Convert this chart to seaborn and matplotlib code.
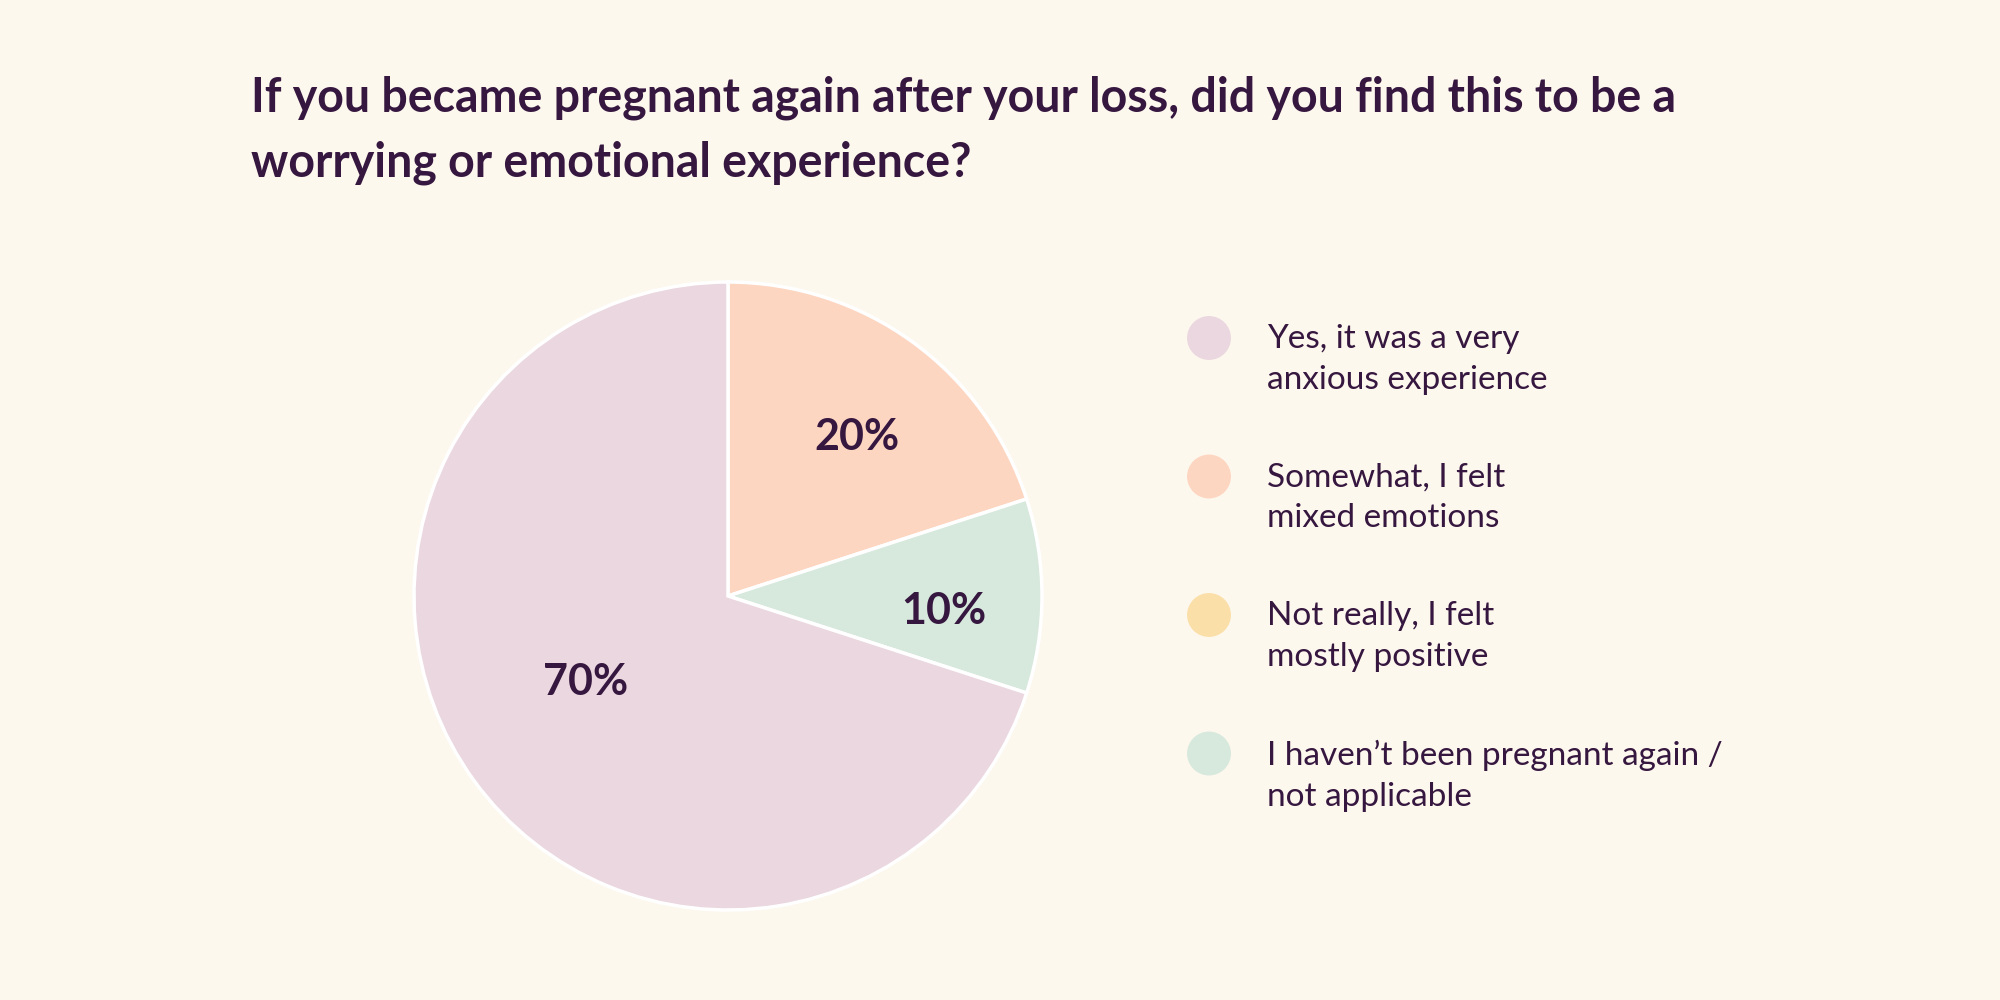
import numpy as np
import pandas as pd
import matplotlib
matplotlib.use("Agg")
import matplotlib.pyplot as plt
import seaborn as sns

# Survey data
categories = [
    "Yes, it was a very\nanxious experience",
    "Somewhat, I felt\nmixed emotions",
    "Not really, I felt\nmostly positive",
    "I haven\u2019t been pregnant again /\nnot applicable",
]
shares = [70, 20, 0, 10]
colors = ["#EBD7DF", "#FDD6C1", "#FADFA9", "#D7E8DD"]
title = ("If you became pregnant again after your loss, did you find this to be a\n"
         "worrying or emotional experience?")

bg = "#FDF8EE"
ink = "#36173F"

sns.set_theme(style="white", rc={"figure.facecolor": bg, "axes.facecolor": bg})
plt.rcParams["font.family"] = ["Lato", "DejaVu Sans"]

df = pd.DataFrame({"category": categories, "share": shares, "color": colors})

fig = plt.figure(figsize=(20, 10), dpi=100)

# Title
fig.text(0.1255, 0.924, title, ha="left", va="top", fontsize=33.5, fontweight="bold",
         color=ink, linespacing=1.55)

# Pie (clockwise from top: Somewhat, Not really, Haven't, Yes)
order = [1, 2, 3, 0]
pie_df = df.iloc[order]
pie_df = pie_df[pie_df["share"] > 0]
r_px = 314
ax = fig.add_axes([(728 - r_px) / 2000, (1000 - 596 - r_px) / 1000,
                   2 * r_px / 2000, 2 * r_px / 1000])
wedges, _ = ax.pie(pie_df["share"], colors=pie_df["color"], startangle=90,
                   counterclock=False, radius=1,
                   wedgeprops=dict(edgecolor="white", linewidth=2.5))
ax.set_xlim(-1, 1)
ax.set_ylim(-1, 1)
ax.set_aspect("equal")
ax.axis("off")

# label placement: (distance from centre, angle nudge in degrees)
label_pos = {20: (0.65, -3), 10: (0.69, -4), 70: (0.53, -5)}
for w, val in zip(wedges, pie_df["share"]):
    d, nudge = label_pos.get(val, (0.6, 0))
    mid = np.deg2rad((w.theta1 + w.theta2) / 2 + nudge)
    ax.text(d * np.cos(mid), d * np.sin(mid), f"{val}%", ha="center", va="center",
            fontsize=31, fontweight="bold", color=ink)

# Legend
lax = fig.add_axes([0, 0, 1, 1])
lax.set_xlim(0, 2000)
lax.set_ylim(1000, 0)
lax.axis("off")
leg = pd.DataFrame({"x": 1209, "y": 338 + np.arange(len(categories)) * 138.5,
                    "category": categories})
sns.scatterplot(data=leg, x="x", y="y", hue="category", palette=colors, s=1000,
                edgecolor="none", legend=False, ax=lax)
for _, r in leg.iterrows():
    lax.text(1267, r["y"] - 14, r["category"], ha="left", va="top", fontsize=24,
             color=ink, linespacing=1.45)

fig.savefig("out.png", dpi=100, facecolor=bg)
